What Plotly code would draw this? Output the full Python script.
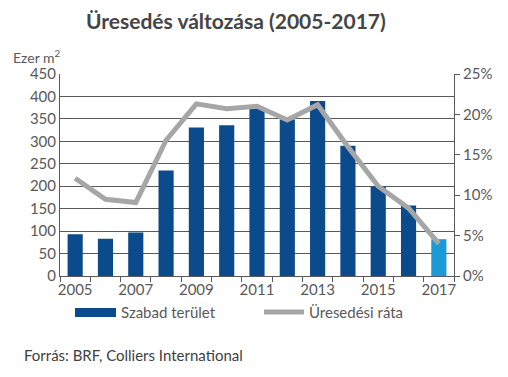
import plotly.graph_objects as go

years = list(range(2005, 2018))
szabad_terulet = [93, 83, 97, 235, 331, 336, 373, 349, 390, 290, 200, 157, 82]
uresedesi_rata = [0.121, 0.095, 0.091, 0.168, 0.213, 0.207, 0.210, 0.193, 0.212, 0.160, 0.111, 0.084, 0.040]
bar_colors = ["#0B4A8B"] * 12 + ["#1B9AD6"]

FONT = "Lato"
TXT = "#595959"

# The page body has an 8px default margin, so the figure is 8px smaller than the window
OFF = 8
W, H = 508 - OFF, 377 - OFF
L, T = 60 - OFF, 74 - OFF
R = W - (454 - OFF)
B = H - (276 - OFF)
pw, ph = W - L - R, H - T - B

fig = go.Figure()
fig.add_trace(go.Bar(x=years, y=szabad_terulet, marker=dict(color=bar_colors, line=dict(width=0)),
                     name="Szabad terület", yaxis="y"))
fig.add_trace(go.Scatter(x=years, y=uresedesi_rata, mode="lines", line=dict(color="#A6A6A6", width=5),
                         name="Üresedési ráta", yaxis="y2"))

fig.update_layout(
    width=W, height=H,
    margin=dict(l=L, r=R, t=T, b=B, pad=0),
    paper_bgcolor="white", plot_bgcolor="white",
    showlegend=False, bargap=0.5,
    font=dict(family=FONT, color=TXT, size=15),
    xaxis=dict(range=[2004.5, 2017.5], tickvals=[2005, 2007, 2009, 2011, 2013, 2015, 2017],
               ticks="", showline=True, linecolor="#595959", linewidth=1, showgrid=False,
               tickfont=dict(size=15, color=TXT),
               minor=dict(ticks="outside", tick0=2004.5, dtick=1, ticklen=5, tickcolor="#595959", showgrid=False)),
    yaxis=dict(range=[0, 450], dtick=50, showgrid=True, gridcolor="#595959", gridwidth=1,
               showline=True, linecolor="#595959", linewidth=1, ticks="", zeroline=False,
               tickfont=dict(size=15, color=TXT)),
    yaxis2=dict(range=[0, 0.25], dtick=0.05, tickformat=".0%", overlaying="y", side="right",
                showgrid=False, showline=True, linecolor="#595959", linewidth=1,
                ticks="outside", ticklen=5, tickcolor="#595959", zeroline=False,
                tickfont=dict(size=15, color=TXT)),
)


def to_paper_x(px):
    return (px - OFF - L) / pw


def to_paper_y(py):
    return 1 - (py - OFF - T) / ph


# (text, x, y, xanchor, size, color) in window pixel coordinates
texts = [
    ("<b>Üresedés változása (2005-2017)</b>", 236, 20, "center", 21, "#454545"),
    ("Ezer m<sup>2</sup>", 37, 57, "center", 14, TXT),
    ("Szabad terület", 119, 312, "left", 15, TXT),
    ("Üresedési ráta", 307, 312, "left", 15, TXT),
    ("Forrás: BRF, Colliers International", 22, 355, "left", 15, "#404040"),
]
for t, px, py, xa, sz, col in texts:
    fig.add_annotation(text=t, x=to_paper_x(px), y=to_paper_y(py), xref="paper", yref="paper",
                       xanchor=xa, yanchor="middle", showarrow=False, font=dict(size=sz, color=col))

# legend symbols
fig.add_shape(type="rect", xref="paper", yref="paper", x0=to_paper_x(75), x1=to_paper_x(116),
              y0=to_paper_y(317), y1=to_paper_y(308), fillcolor="#0B4A8B", line=dict(width=0))
fig.add_shape(type="line", xref="paper", yref="paper", x0=to_paper_x(264), x1=to_paper_x(304),
              y0=to_paper_y(312), y1=to_paper_y(312), line=dict(color="#A6A6A6", width=5))

fig.write_html("out.html")
